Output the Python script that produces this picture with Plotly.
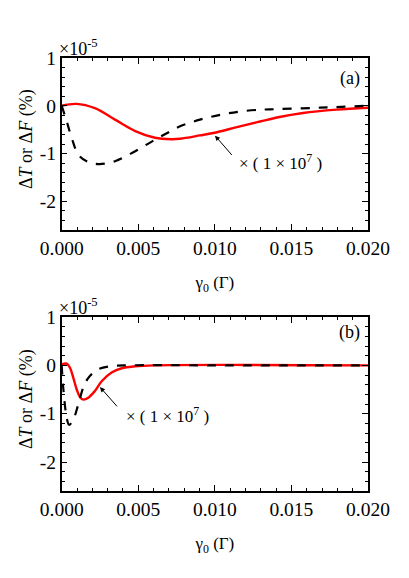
import plotly.graph_objects as go

# panel (a): values in units of 1e-5 (%)
xa_dash = [0, 0.00033, 0.00065, 0.00108, 0.00163, 0.00239, 0.00348, 0.0048, 0.00609,
           0.00729, 0.00773, 0.00903, 0.01034, 0.01164, 0.01295, 0.0136, 0.01686, 0.02]
ya_dash = [0, -0.33, -0.67, -1.02, -1.16, -1.22, -1.16, -0.95, -0.71,
           -0.5, -0.43, -0.29, -0.19, -0.12, -0.083, -0.075, -0.04, 0]
xa_red = [0, 0.00096, 0.00217, 0.00348, 0.0048, 0.00609, 0.00716, 0.00773, 0.00903,
          0.0099, 0.01164, 0.01295, 0.01413, 0.01576, 0.01796, 0.02]
ya_red = [0, 0.04, -0.05, -0.29, -0.53, -0.67, -0.7, -0.69, -0.62,
          -0.57, -0.43, -0.33, -0.24, -0.15, -0.08, -0.04]

# panel (b)
xb_dash = [0, 0.0001, 0.00033, 0.00048, 0.00076, 0.00108, 0.00141, 0.00174, 0.00239,
           0.00326, 0.0044, 0.01, 0.02]
yb_dash = [0, -0.46, -1.09, -1.23, -1.12, -0.81, -0.46, -0.26, -0.08,
           -0.015, 0, 0, 0]
xb_red = [0, 0.00033, 0.00054, 0.00076, 0.00098, 0.0012, 0.00141, 0.00174, 0.00217,
          0.00261, 0.00326, 0.00392, 0.0048, 0.006, 0.02]
yb_red = [0.02, 0.035, -0.05, -0.26, -0.5, -0.66, -0.71, -0.67, -0.53,
          -0.33, -0.15, -0.06, -0.02, 0, 0]

ytick_vals = [-2, -1, 0, 1]
ytick_text = ["-2", "-1", "0", "1"]
xtick_vals = [0, 0.005, 0.01, 0.015, 0.02]

FONT = "Liberation Serif, Times New Roman, serif"

fig = go.Figure()
fig.add_trace(go.Scatter(x=xa_red, y=ya_red, mode="lines", line=dict(color="red", width=2.4, shape="spline"),
                         xaxis="x", yaxis="y", showlegend=False))
fig.add_trace(go.Scatter(x=xa_dash, y=ya_dash, mode="lines",
                         line=dict(color="black", width=2.2, dash="dash", shape="spline"),
                         xaxis="x", yaxis="y", showlegend=False))
fig.add_trace(go.Scatter(x=xb_red, y=yb_red, mode="lines", line=dict(color="red", width=2.4, shape="spline"),
                         xaxis="x2", yaxis="y2", showlegend=False))
fig.add_trace(go.Scatter(x=xb_dash, y=yb_dash, mode="lines",
                         line=dict(color="black", width=2.2, dash="dash", shape="spline"),
                         xaxis="x2", yaxis="y2", showlegend=False))

W, H = 409, 578
xdom = [61.7 / W, 368 / W]
ydom_a = [1 - 230 / H, 1 - 58 / H]
ydom_b = [1 - 491 / H, 1 - 317 / H]

xax = dict(range=[0, 0.02], tickvals=xtick_vals, tickformat=".3f", ticks="inside", ticklen=6,
           tickwidth=1.2, showline=True, mirror="ticks", linecolor="black", linewidth=1.5,
           showgrid=False, zeroline=False, domain=xdom, tickcolor="black", automargin=False,
           minor=dict(dtick=0.001, tick0=0, ticks="inside", ticklen=3.5, tickcolor="black"),
           title=dict(text="γ<sub>0</sub> (Γ)", font=dict(family=FONT, size=17), standoff=18),
           tickfont=dict(family=FONT, size=19.5))
yax = dict(range=[-2.6, 1], tickvals=ytick_vals, ticktext=ytick_text, ticks="inside", ticklen=6,
           tickwidth=1.2, showline=True, mirror="ticks", linecolor="black", linewidth=1.5,
           showgrid=False, zeroline=False, tickcolor="black", automargin=False,
           minor=dict(dtick=0.2, tick0=0, ticks="inside", ticklen=3.5, tickcolor="black"),
           tickfont=dict(family=FONT, size=19.5))

fig.update_layout(
    width=W, height=H,
    margin=dict(l=0, r=0, t=0, b=0, autoexpand=False),
    paper_bgcolor="white", plot_bgcolor="white",
    font=dict(family=FONT, color="black", size=18),
    xaxis=dict(xax, anchor="y"),
    yaxis=dict(yax, domain=ydom_a, anchor="x"),
    xaxis2=dict(xax, anchor="y2"),
    yaxis2=dict(yax, domain=ydom_b, anchor="x2"),
)

ytitle = "Δ<i>T</i> or Δ<i>F</i> (%)"
for dom, lab, xr, yr, head, tail, txt, lab_y in [
    (ydom_a, "(a)", "x", "y", (0.01001, -0.625), (0.01119, -1.06), (0.01144, -1.17), 0.58),
    (ydom_b, "(b)", "x2", "y2", (0.0025, -0.45), (0.0037, -0.88), (0.00407, -1.02), 0.68),
]:
    fig.add_annotation(x=26 / W, y=(dom[0] + dom[1]) / 2 + 5 / H, xref="paper", yref="paper",
                       xanchor="center", yanchor="middle",
                       text=ytitle, textangle=-90, showarrow=False, font=dict(family=FONT, size=18))
    fig.add_annotation(x=57 / W, y=dom[1] - 3 / H, xref="paper", yref="paper",
                       xanchor="left", yanchor="bottom", text="×10<sup>-5</sup>",
                       showarrow=False, font=dict(family=FONT, size=18))
    fig.add_annotation(x=0.0196, y=lab_y, xref=xr, yref=yr, xanchor="right", text=lab,
                       showarrow=False, font=dict(family=FONT, size=18))
    fig.add_annotation(x=head[0], y=head[1], ax=tail[0], ay=tail[1], xref=xr, yref=yr,
                       axref=xr, ayref=yr, text="", showarrow=True, arrowhead=2,
                       arrowsize=1, arrowwidth=1, arrowcolor="black")
    fig.add_annotation(x=txt[0], y=txt[1], xref=xr, yref=yr, xanchor="left",
                       text="× ( 1 × 10<sup>7</sup> )", showarrow=False, font=dict(family=FONT, size=17))

fig.write_html("out.html", config=dict(displayModeBar=False),
               post_script="document.body.style.margin='0';")
